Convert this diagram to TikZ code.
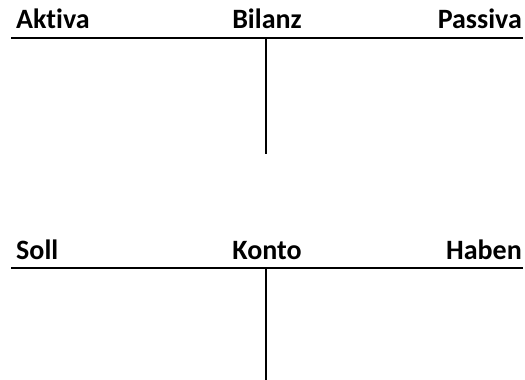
\documentclass[tikz,border=0pt]{standalone}
\usepackage{fontspec}
\setmainfont{Carlito}[RawFeature=-liga]
\usepackage{tikz}
\usetikzlibrary{positioning}
\definecolor{Ink}{HTML}{000000}
\tikzset{
  kopf/.style={inner sep=0pt,text=Ink,font=\bfseries\fontsize{28}{32}\selectfont},
  kopfl/.style={kopf,anchor=base west},
  kopfm/.style={kopf,anchor=base},
  kopfr/.style={kopf,anchor=base east},
  tlinie/.style={draw=Ink,line width=2pt}
}
\begin{document}
\begin{tikzpicture}[x=1pt,y=-1pt]
\useasboundingbox (0,0) rectangle (525,380);
% Bilanz
\node[kopfl] (aktiva) at (16,28) {Aktiva};
\node[kopfm] (bilanz) at (267,28) {Bilanz};
\node[kopfr] (passiva) at (522,28) {Passiva};
\coordinate (bl) at (11,38);
\coordinate (br) at (523,38);
\coordinate (bm) at (266,38);
\coordinate (bu) at (266,154);
\draw[tlinie] (bl)--(br);
\draw[tlinie] (bm)--(bu);
% Konto
\node[kopfl] (soll) at (16,259) {Soll};
\node[kopfm] (konto) at (267,259) {Konto};
\node[kopfr] (haben) at (522,259) {Haben};
\coordinate (kl) at (11,268);
\coordinate (kr) at (523,268);
\coordinate (km) at (266,268);
\coordinate (ku) at (266,380);
\draw[tlinie] (kl)--(kr);
\draw[tlinie] (km)--(ku);
\end{tikzpicture}
\end{document}
